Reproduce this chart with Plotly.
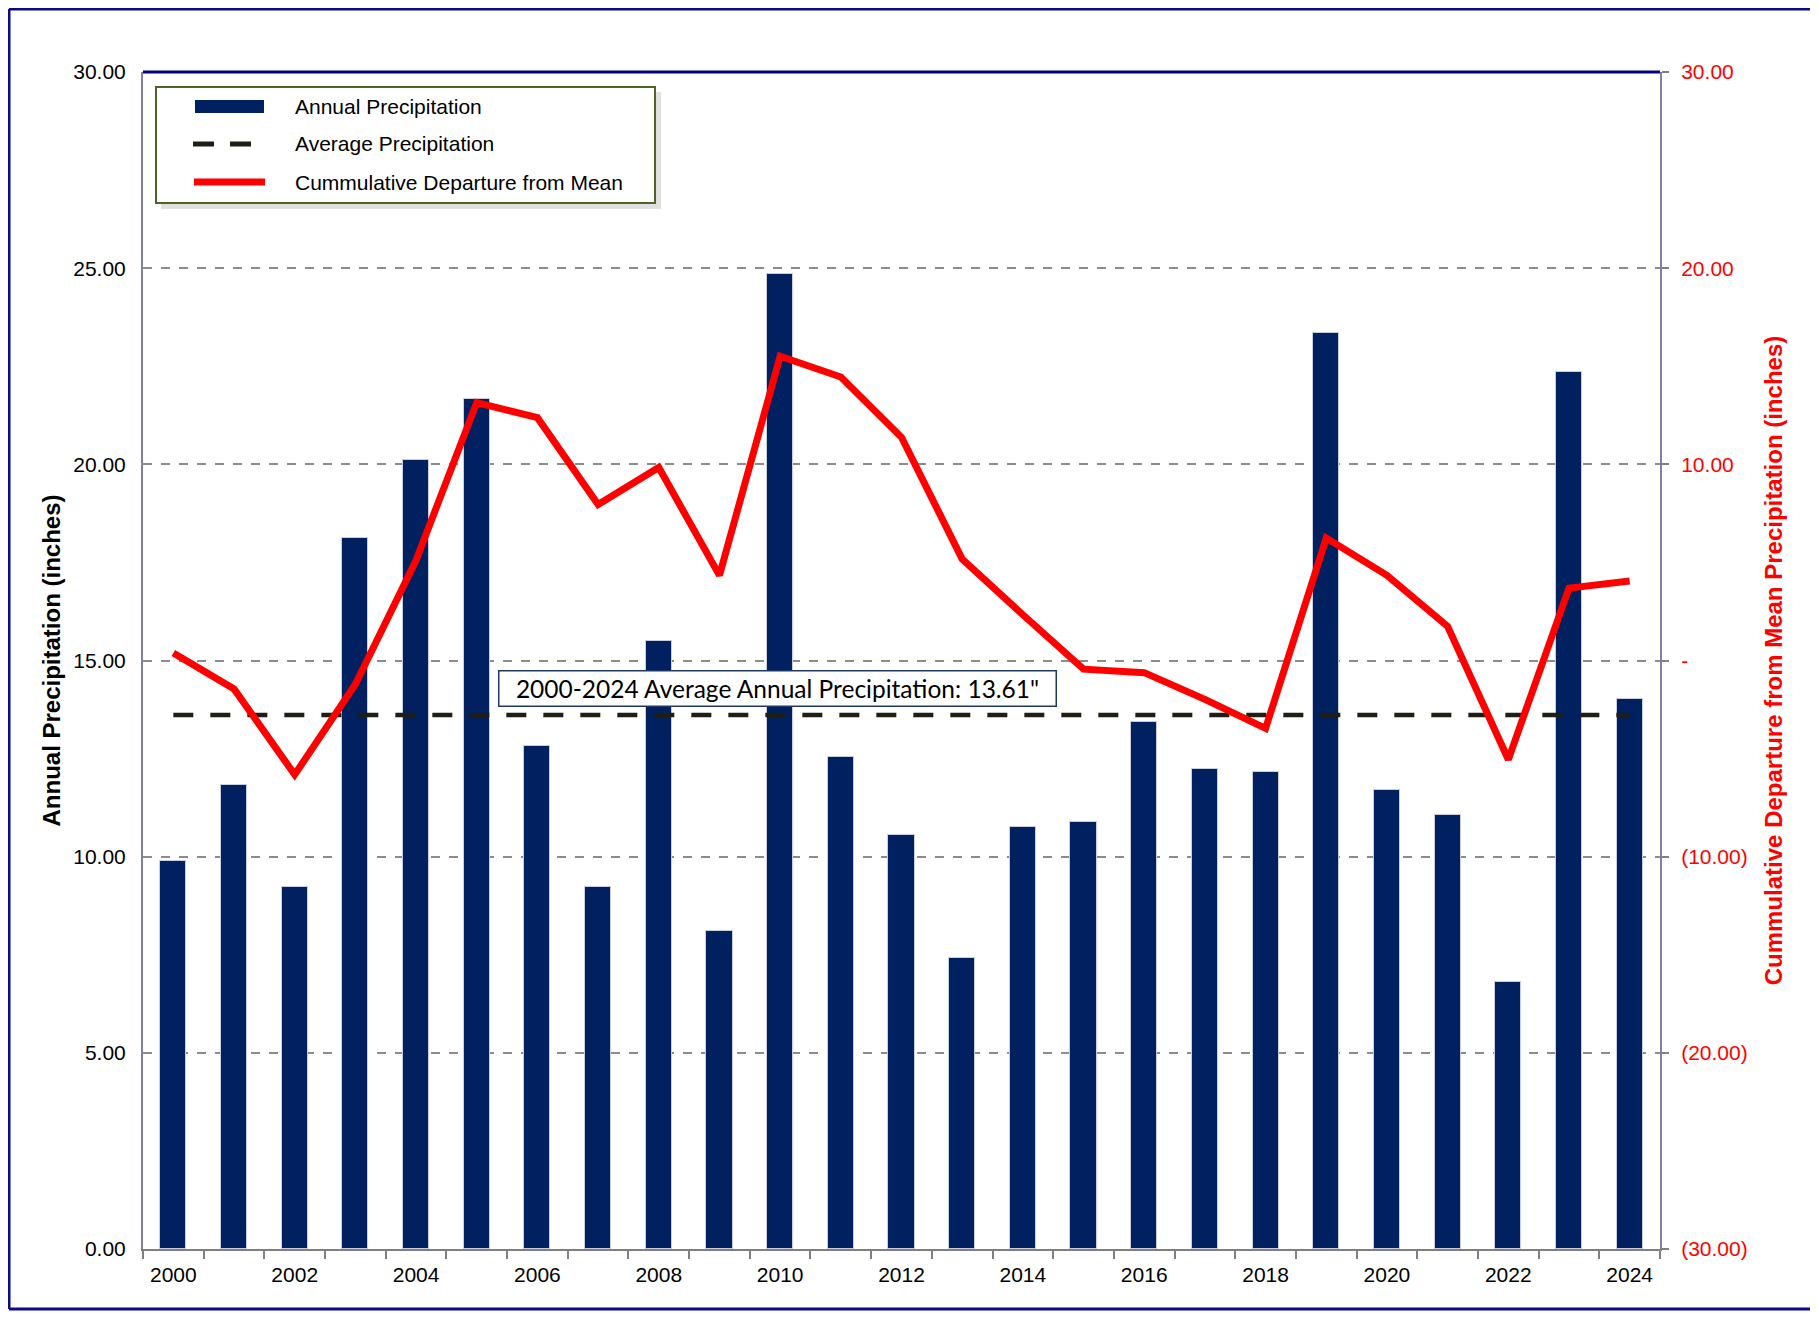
import plotly.graph_objects as go

# datos
years = list(range(2000, 2025))
precip = [9.90, 11.82, 9.22, 18.12, 20.10, 21.67, 12.83, 9.22, 15.49, 8.10,
          24.86, 12.53, 10.55, 7.42, 10.76, 10.88, 13.42, 12.24, 12.15, 23.35,
          11.71, 11.06, 6.80, 22.35, 14.01]
cum_dep = [0.38, -1.45, -5.82, -1.21, 5.11, 13.15, 12.38, 7.95, 9.84, 4.34,
           15.51, 14.45, 11.38, 5.17, 2.33, -0.44, -0.62, -1.98, -3.46, 6.24,
           4.34, 1.74, -5.05, 3.69, 4.05]
avg_precip = 13.61
x_labels = [str(y) for y in range(2000, 2025, 2)]
left_ticks = [0, 5, 10, 15, 20, 25, 30]
right_ticks = [-30, -20, -10, 0, 10, 20, 30]
right_labels = ["(30.00)", "(20.00)", "(10.00)", "-", "10.00", "20.00", "30.00"]

W, H = 1818, 1319
OFF = 8  # margen del body de la pagina
L, R, T, B = 143, 1660, 72, 1249
NAVY = "#002060"
FONT = "Liberation Sans, Arial, sans-serif"


def px(x):
    return (x - L) / (R - L)


def py(y):
    return (B - y) / (B - T)


fig = go.Figure()

fig.add_trace(go.Bar(
    x=years, y=precip, name="Annual Precipitation",
    width=0.43, marker=dict(color=NAVY, line=dict(color="#c8cde0", width=1)),
))
fig.add_trace(go.Scatter(
    x=[years[0], years[-1]], y=[avg_precip, avg_precip], mode="lines",
    name="Average Precipitation",
    line=dict(color="#1e1e14", width=4.5, dash="20px,17px"),
))
fig.add_trace(go.Scatter(
    x=years, y=cum_dep, mode="lines", yaxis="y2",
    name="Cummulative Departure from Mean",
    line=dict(color="#ff0000", width=7),
))

shapes = []
# borde exterior
border = "#0a0a8a"
shapes.append(dict(type="line", xref="paper", yref="paper", x0=px(OFF + 1), x1=px(W + 5),
                   y0=py(OFF + 1), y1=py(OFF + 1), line=dict(color=border, width=3)))
shapes.append(dict(type="line", xref="paper", yref="paper", x0=px(OFF + 1), x1=px(W + 5),
                   y0=py(H - OFF - 2), y1=py(H - OFF - 2), line=dict(color=border, width=3)))
shapes.append(dict(type="line", xref="paper", yref="paper", x0=px(OFF + 1), x1=px(OFF + 1),
                   y0=py(OFF + 1), y1=py(H - OFF - 2), line=dict(color=border, width=3)))
# linea superior del area de grafico
shapes.append(dict(type="line", xref="paper", yref="paper", x0=0, x1=1, y0=1, y1=1,
                   line=dict(color="#000080", width=3)))

# leyenda hecha a mano
shapes.append(dict(type="rect", xref="paper", yref="paper",
                   x0=px(161), x1=px(661), y0=py(92), y1=py(209),
                   fillcolor="rgba(0,0,0,0.12)", line=dict(width=0), layer="above"))
shapes.append(dict(type="rect", xref="paper", yref="paper",
                   x0=px(156), x1=px(655), y0=py(87), y1=py(203),
                   fillcolor="white", line=dict(color="#4f6228", width=2), layer="above"))
shapes.append(dict(type="rect", xref="paper", yref="paper",
                   x0=px(195), x1=px(264), y0=py(100), y1=py(113),
                   fillcolor=NAVY, line=dict(width=0), layer="above"))
for xa, xb in [(193, 214), (230, 251)]:
    shapes.append(dict(type="line", xref="paper", yref="paper",
                       x0=px(xa), x1=px(xb), y0=py(144), y1=py(144),
                       line=dict(color="#1e1e14", width=5), layer="above"))
shapes.append(dict(type="line", xref="paper", yref="paper",
                   x0=px(194), x1=px(265), y0=py(182), y1=py(182),
                   line=dict(color="#ff0000", width=7), layer="above"))

annotations = []
for txt, yy in [("Annual Precipitation", 106), ("Average Precipitation", 144),
                ("Cummulative Departure from Mean", 182)]:
    annotations.append(dict(xref="paper", yref="paper", x=px(293), y=py(yy),
                            xanchor="left", yanchor="middle", text=txt, showarrow=False,
                            font=dict(family=FONT, size=21, color="black")))

annotations.append(dict(
    xref="paper", yref="paper", x=px(777), y=py(688), xanchor="center", yanchor="middle",
    text='2000-2024 Average Annual Precipitation: 13.61"', showarrow=False,
    font=dict(family="Lato, Carlito, sans-serif", size=24.5, color="black"),
    bgcolor="white", bordercolor="#1f3864", borderwidth=1.5, borderpad=3,
    width=550, height=28,
))

fig.update_layout(
    width=W - 2 * OFF, height=H - 2 * OFF,
    margin=dict(l=L - OFF, r=W - R - OFF, t=T - OFF, b=H - B - OFF),
    paper_bgcolor="white", plot_bgcolor="white",
    font=dict(family=FONT, size=21, color="black"),
    showlegend=False,
    bargap=0,
    shapes=shapes,
    annotations=annotations,
    xaxis=dict(
        range=[1999.5, 2024.5],
        tickvals=[int(v) for v in x_labels], ticktext=x_labels,
        ticks="outside", ticklen=0, tickfont=dict(size=21), ticklabelstandoff=6,
        showgrid=False, zeroline=False,
        showline=True, linecolor="#808080", linewidth=2,
        minor=dict(tick0=1999.5, dtick=1, ticks="outside", ticklen=8,
                   tickcolor="#808080", tickwidth=2, showgrid=False),
    ),
    yaxis=dict(
        range=[0, 30], tickvals=left_ticks, tickformat=".2f",
        showgrid=True, gridcolor="#8c8c8c", griddash="dash", gridwidth=1.5,
        zeroline=False, showline=True, linecolor="#7f7fa8", linewidth=2,
        ticks="", tickfont=dict(size=21), ticklabelstandoff=11,
        title=dict(text="<b>Annual Precipitation (inches)</b>", font=dict(size=24), standoff=6),
    ),
    yaxis2=dict(
        range=[-30, 30], overlaying="y", side="right",
        tickvals=right_ticks, ticktext=right_labels,
        showgrid=False, zeroline=False, showline=True, linecolor="#7f7fa8", linewidth=2,
        ticks="outside", ticklen=7, tickcolor="#808080", tickwidth=2,
        tickfont=dict(size=21, color="#ff0000"), ticklabelstandoff=8,
        title=dict(text="<b>Cummulative Departure from Mean Precipitation (inches)</b>",
                   font=dict(size=24, color="#ff0000"), standoff=18),
    ),
)

fig.write_html("out.html")
